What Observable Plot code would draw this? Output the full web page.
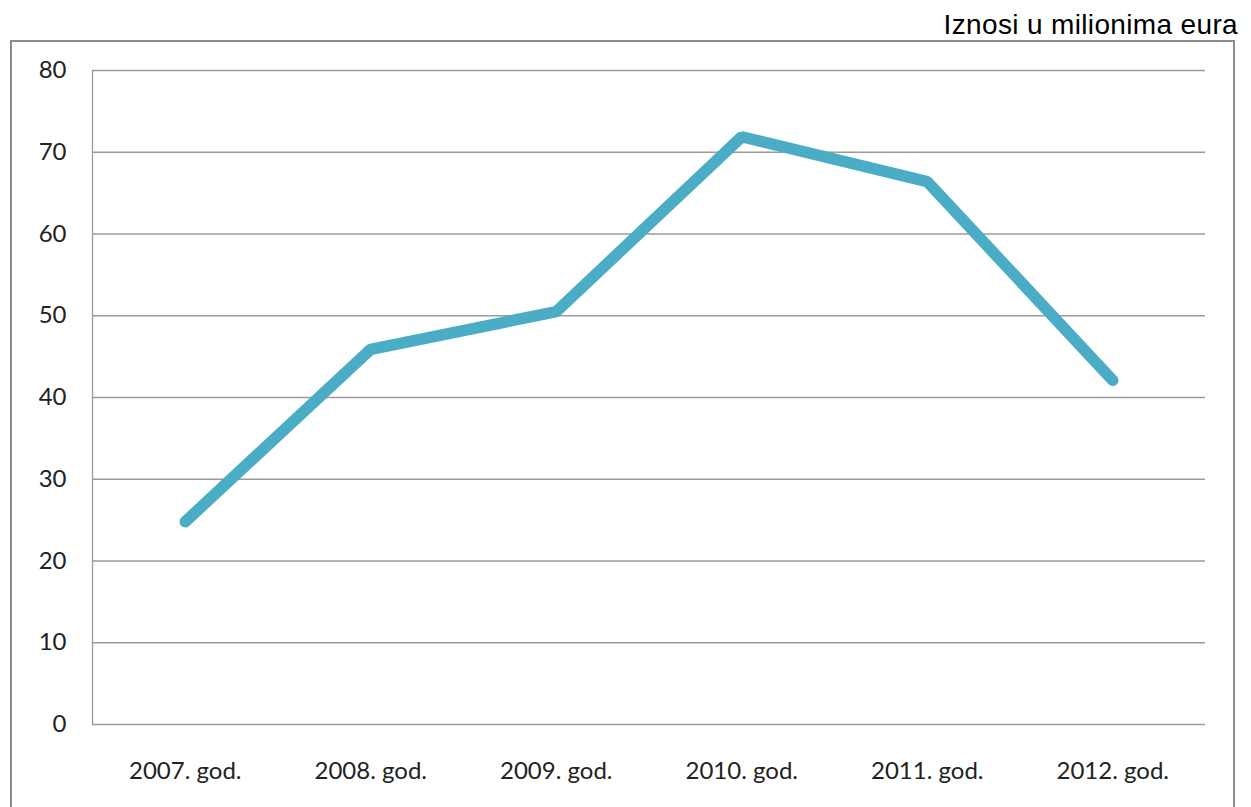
<!DOCTYPE html>
<html>
<head>
<meta charset="utf-8">
<script src="https://cdn.jsdelivr.net/npm/d3@7"></script>
<script src="https://cdn.jsdelivr.net/npm/@observablehq/plot@0.6"></script>
<style>
  html, body { margin: 0; padding: 0; background: #fff; overflow: hidden; }
  #wrap { position: relative; width: 1251px; height: 807px; }
  #title { position: absolute; top: 11px; right: 13px; font-family: "Liberation Sans", Arial, sans-serif; font-size: 28px; line-height: 28px; letter-spacing: 0.35px; color: #000; white-space: nowrap; }
  #box { position: absolute; left: 10px; top: 40px; width: 1221px; height: 800px; border: 2px solid #8c8c8c; pointer-events: none; }
  #chart { position: absolute; left: 0; top: 0; }
</style>
</head>
<body>
<div id="wrap">
  <div id="box"></div>
  <div id="chart"></div>
  <div id="title">Iznosi u milionima eura</div>
</div>
<script>
const categories = ["2007. god.", "2008. god.", "2009. god.", "2010. god.", "2011. god.", "2012. god."];
const values = [24.8, 45.9, 50.5, 71.9, 66.4, 42.1];
const yTicks = [0, 10, 20, 30, 40, 50, 60, 70, 80];

const data = categories.map((c, i) => ({i, label: c, value: values[i]}));
const idx = categories.map((c, i) => i);

const chart = Plot.plot({
  width: 1251,
  height: 807,
  marginLeft: 92,
  marginRight: 46,
  marginTop: 70,
  marginBottom: 83,
  style: {fontFamily: "Lato, sans-serif", fontSize: "24px", color: "#222", background: "transparent"},
  x: {domain: [-0.5, categories.length - 0.5]},
  y: {domain: [0, 80]},
  marks: [
    Plot.ruleY(yTicks, {stroke: "#9a9a9a", strokeWidth: 1.3}),
    Plot.ruleX([-0.5], {stroke: "#9a9a9a", strokeWidth: 1.3}),
    Plot.axisY({ticks: yTicks, tickSize: 0, tickPadding: 26, label: null, tickFormat: d => String(d), fill: "#222"}),
    Plot.axisX({ticks: idx, tickSize: 0, tickPadding: 37, label: null, tickFormat: i => categories[i], fill: "#222"}),
    Plot.line(data, {x: "i", y: "value", stroke: "#4BACC6", strokeWidth: 11.5, strokeLinecap: "round", strokeLinejoin: "miter"})
  ]
});
document.getElementById("chart").appendChild(chart);
</script>
</body>
</html>
